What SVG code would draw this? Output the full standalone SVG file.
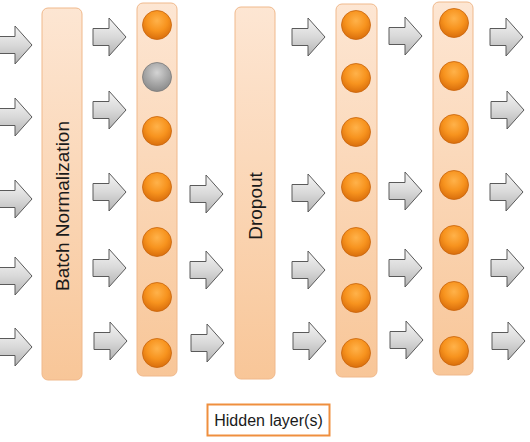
<svg xmlns="http://www.w3.org/2000/svg" xmlns:xlink="http://www.w3.org/1999/xlink" width="530" height="442" viewBox="0 0 530 442">
<defs>
<linearGradient id="gArrow" x1="0" y1="0" x2="0" y2="1">
<stop offset="0" stop-color="#f4f4f4"/>
<stop offset="0.5" stop-color="#d9d9d9"/>
<stop offset="1" stop-color="#b3b3b3"/>
</linearGradient>
<linearGradient id="gBar" x1="0" y1="0" x2="0" y2="1">
<stop offset="0" stop-color="#fde6d3"/>
<stop offset="1" stop-color="#f8c698"/>
</linearGradient>
<radialGradient id="gOrange" cx="0.5" cy="0.35" r="0.65">
<stop offset="0" stop-color="#ffb24a"/>
<stop offset="0.55" stop-color="#f7931e"/>
<stop offset="1" stop-color="#d96e0c"/>
</radialGradient>
<radialGradient id="gGray" cx="0.5" cy="0.35" r="0.65">
<stop offset="0" stop-color="#d4d4d4"/>
<stop offset="0.55" stop-color="#aaaaaa"/>
<stop offset="1" stop-color="#8a8a8a"/>
</radialGradient>
<path id="arrow" d="M0,-8.5 H16 V-19 L33,0 L16,19 V8.5 H0 Z"/>
</defs>
<style>
.arr{fill:url(#gArrow);stroke:#5a5a5a;stroke-width:1;stroke-linejoin:miter}
.bar{fill:url(#gBar);stroke:#f0b98c;stroke-width:1}
.n{fill:url(#gOrange);stroke:#c8640c;stroke-width:0.8}
.ng{fill:url(#gGray);stroke:#7a7a7a;stroke-width:0.8}
.lbl{font-family:"Liberation Sans",Arial,sans-serif;fill:#1a1a1a}
</style>
<rect width="530" height="442" fill="#ffffff"/>
<g id="connectors">
<use href="#arrow" class="arr" x="-1" y="45"/>
<use href="#arrow" class="arr" x="-1" y="117"/>
<use href="#arrow" class="arr" x="-1" y="199"/>
<use href="#arrow" class="arr" x="-1" y="276"/>
<use href="#arrow" class="arr" x="-1" y="347"/>
<use href="#arrow" class="arr" x="93" y="37"/>
<use href="#arrow" class="arr" x="93" y="110"/>
<use href="#arrow" class="arr" x="93" y="192"/>
<use href="#arrow" class="arr" x="93" y="268"/>
<use href="#arrow" class="arr" x="94" y="341"/>
<use href="#arrow" class="arr" x="190" y="194"/>
<use href="#arrow" class="arr" x="190" y="270"/>
<use href="#arrow" class="arr" x="191" y="343"/>
<use href="#arrow" class="arr" x="292" y="37"/>
<use href="#arrow" class="arr" x="292" y="193"/>
<use href="#arrow" class="arr" x="292" y="270"/>
<use href="#arrow" class="arr" x="293" y="341"/>
<use href="#arrow" class="arr" x="389" y="36"/>
<use href="#arrow" class="arr" x="389" y="191"/>
<use href="#arrow" class="arr" x="389" y="268"/>
<use href="#arrow" class="arr" x="390" y="340"/>
<use href="#arrow" class="arr" x="490" y="37"/>
<use href="#arrow" class="arr" x="491" y="110"/>
<use href="#arrow" class="arr" x="490" y="192"/>
<use href="#arrow" class="arr" x="491" y="268"/>
<use href="#arrow" class="arr" x="492" y="341"/>
</g>
<g id="batchnorm">
<rect class="bar" x="42" y="8" width="40" height="372" rx="6"/>
<text class="lbl" font-size="19" text-anchor="middle" transform="translate(68.5,206) rotate(-90)">Batch Normalization</text>
</g>
<g id="layer1">
<rect class="bar" x="137" y="3" width="40" height="373" rx="6"/>
<circle class="n" cx="157" cy="25" r="14.5"/>
<circle class="ng" cx="157" cy="77" r="14.5"/>
<circle class="n" cx="157" cy="131" r="14.5"/>
<circle class="n" cx="157" cy="187" r="14.5"/>
<circle class="n" cx="157" cy="242" r="14.5"/>
<circle class="n" cx="157" cy="297" r="14.5"/>
<circle class="n" cx="157" cy="353" r="14.5"/>
</g>
<g id="dropout">
<rect class="bar" x="235" y="7" width="40" height="372" rx="6"/>
<text class="lbl" font-size="19" text-anchor="middle" transform="translate(261.5,206) rotate(-90)">Dropout</text>
</g>
<g id="layer2">
<rect class="bar" x="336" y="4" width="41" height="373" rx="6"/>
<circle class="n" cx="356" cy="25" r="14.5"/>
<circle class="n" cx="356" cy="78" r="14.5"/>
<circle class="n" cx="356" cy="132" r="14.5"/>
<circle class="n" cx="356" cy="187" r="14.5"/>
<circle class="n" cx="356" cy="242" r="14.5"/>
<circle class="n" cx="356" cy="298" r="14.5"/>
<circle class="n" cx="356" cy="353" r="14.5"/>
</g>
<g id="layer3">
<rect class="bar" x="433" y="2" width="40" height="373" rx="6"/>
<circle class="n" cx="454" cy="23" r="14.5"/>
<circle class="n" cx="454" cy="76" r="14.5"/>
<circle class="n" cx="454" cy="129" r="14.5"/>
<circle class="n" cx="454" cy="185" r="14.5"/>
<circle class="n" cx="454" cy="240" r="14.5"/>
<circle class="n" cx="454" cy="296" r="14.5"/>
<circle class="n" cx="454" cy="351" r="14.5"/>
</g>
<g id="hidden-label">
<rect x="207.5" y="404.5" width="122" height="31" fill="#ffffff" stroke="#ef8f3f" stroke-width="2"/>
<text class="lbl" font-size="16" x="268.5" y="426" text-anchor="middle">Hidden layer(s)</text>
</g>
</svg>
